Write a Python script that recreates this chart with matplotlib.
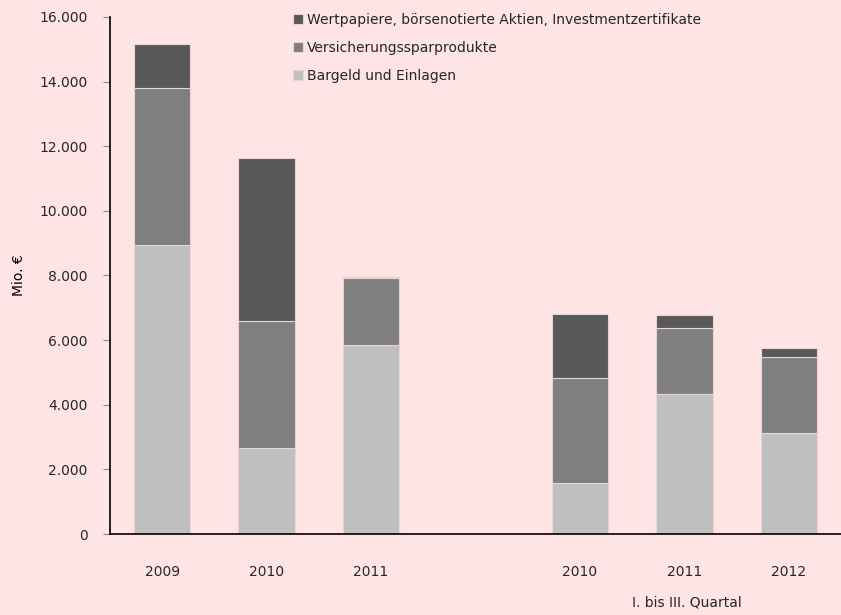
"""Stacked bars: Geldvermögensbildung nach Anlageformen."""
import matplotlib.pyplot as plt

years = ['2009', '2010', '2011', '2010', '2011', '2012']
positions = [0, 1, 2, 4, 5, 6]
bargeld = [8950, 2670, 5850, 1590, 4330, 3120]
versicherung = [4850, 3920, 2070, 3240, 2050, 2360]
wertpapiere = [1350, 5050, 20, 1980, 390, 280]

labels = ['Bargeld und Einlagen', 'Versicherungssparprodukte',
          'Wertpapiere, börsenotierte Aktien, Investmentzertifikate']
colors = ['#BFBFBF', '#7F7F7F', '#595959']
bg = '#FFE4E6'
text_color = '#262626'

plt.rcParams['font.family'] = ['DejaVu Sans']
plt.rcParams['text.color'] = text_color
plt.rcParams['xtick.labelcolor'] = text_color
plt.rcParams['ytick.labelcolor'] = text_color

fig = plt.figure(figsize=(8.41, 6.15), dpi=100, facecolor=bg)
ax = fig.add_axes([0.1308, 0.1317, 0.8692, 0.8407], facecolor=bg)

bottom = [0] * len(years)
handles = []
for values, label, color in zip([bargeld, versicherung, wertpapiere], labels, colors):
    bars = ax.bar(positions, values, width=0.54, bottom=bottom, color=color,
                  edgecolor='#EBD3D5', linewidth=0.8, label=label)
    handles.append(bars)
    bottom = [b + v for b, v in zip(bottom, values)]

ax.set_ylim(0, 16000)
ax.set_xlim(-0.5, 6.5)
ax.set_yticks(range(0, 16001, 2000))
ax.set_yticklabels([f'{v:,}'.replace(',', '.') for v in range(0, 16001, 2000)], fontsize=10)
ax.set_xticks(positions)
ax.set_xticklabels(years, fontsize=10)
ax.tick_params(axis='x', length=0, pad=22)
ax.tick_params(axis='y', length=5, color='#888888', pad=11)

for side in ['top', 'right']:
    ax.spines[side].set_visible(False)
ax.spines['left'].set_linewidth(1.2)
ax.spines['bottom'].set_linewidth(1.2)

ax.set_ylabel('Mio. €', fontsize=10)
ax.yaxis.set_label_coords(-0.115, 0.5)

fig.text(687 / 841, 1 - 603 / 615, 'I. bis III. Quartal', ha='center', va='center', fontsize=10)

leg = fig.legend(handles[::-1], labels[::-1], loc='upper left',
                 bbox_to_anchor=(286 / 841, 1 - 6 / 615), frameon=False,
                 fontsize=10, handlelength=0.7, handleheight=0.7,
                 handletextpad=0.3, labelspacing=1.0, borderpad=0)

fig.savefig('out.png', dpi=100, facecolor=bg)
